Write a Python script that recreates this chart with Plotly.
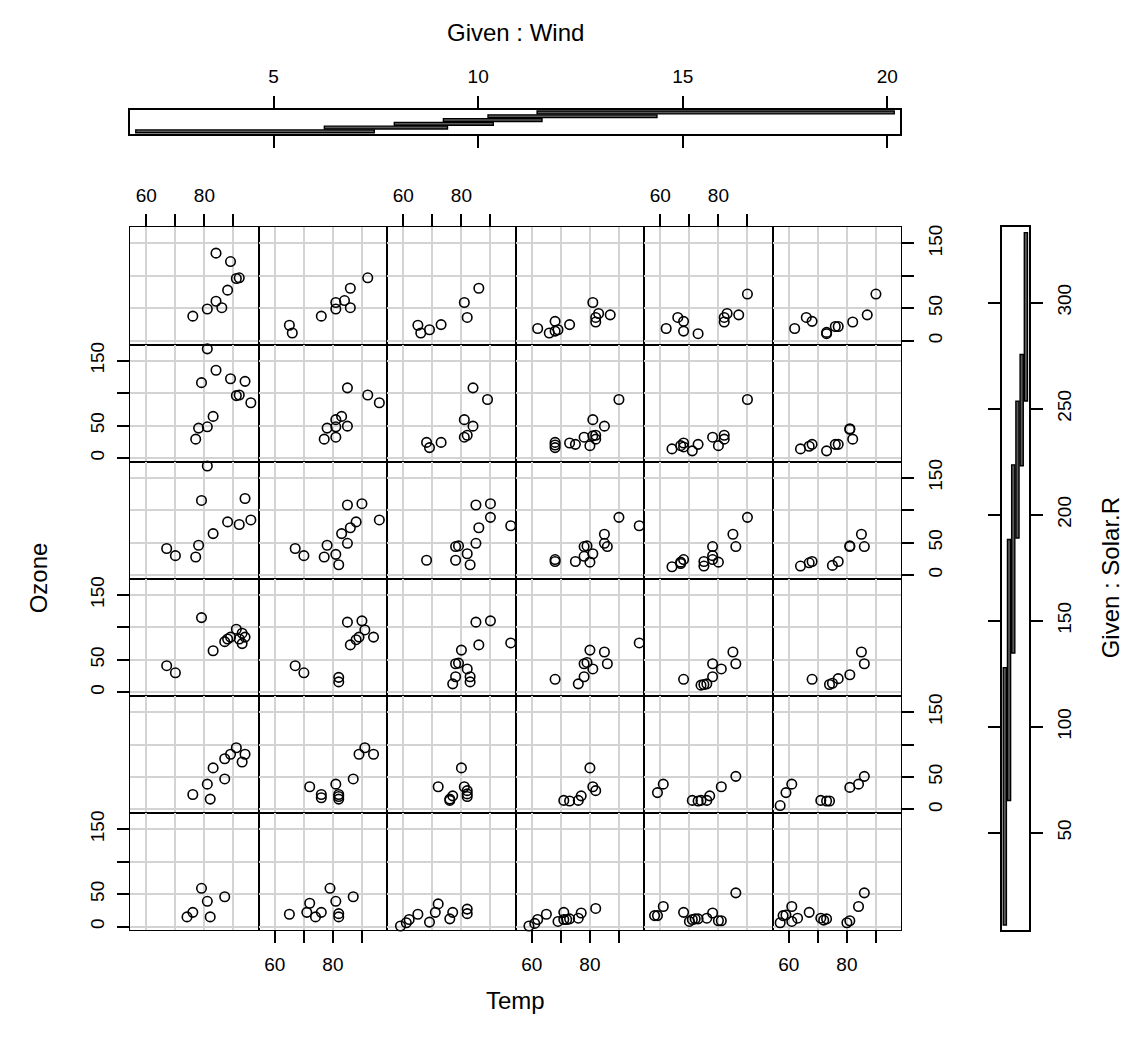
import plotly.graph_objects as go

W, H = 1136, 1042
FONT = "Liberation Sans, Arial, Helvetica, sans-serif"

# ---- conditioning intervals -------------------------------------------
# Wind intervals (top given panel), one per column, left to right
wind_lo = [1.63, 6.24, 7.95, 9.15, 10.24, 11.44]
wind_hi = [7.46, 9.25, 10.37, 11.56, 14.37, 20.17]
# Solar.R intervals (right given panel), one per row, bottom row first
solar_lo = [6.5, 65.2, 134.8, 189.0, 223.1, 253.6]
solar_hi = [127.9, 188.3, 223.5, 253.5, 275.5, 333.0]

wind_ticks = [5, 10, 15, 20]
solar_ticks = [50, 100, 150, 200, 250, 300]
temp_ticks = [60, 70, 80, 90]
temp_labels = ["60", "", "80", ""]
ozone_ticks = [0, 50, 100, 150]
ozone_labels = ["0", "50", "", "150"]

# ---- Ozone vs Temp, one list per column (Wind interval 1..6) ----------
# rows listed from the top (highest Solar.R) to the bottom (lowest)
temp_row1 = [[84, 89, 91, 92, 88, 84, 81, 86, 76],
             [65, 66, 76, 81, 81, 84, 86, 86, 92],
             [65, 66, 69, 73, 81, 82, 86],
             [62, 66, 68, 68, 69, 73, 81, 82, 83, 82, 87],
             [62, 66, 68, 68, 73, 82, 83, 82, 87, 90],
             [62, 66, 68, 73, 73, 76, 77, 82, 87, 90]]
ozone_row1 = [[135, 122, 96, 97, 78, 61, 49, 51, 38],
              [24, 12, 38, 59, 49, 62, 81, 51, 97],
              [24, 12, 17, 25, 59, 36, 81],
              [19, 12, 30, 15, 17, 25, 59, 36, 42, 29, 40],
              [19, 36, 30, 15, 11, 36, 42, 29, 40, 72],
              [19, 36, 30, 11, 13, 22, 22, 29, 40, 72]]

temp_row2 = [[81, 84, 79, 89, 94, 91, 92, 96, 83, 78, 81, 77],
             [85, 92, 96, 83, 81, 78, 81, 85, 77, 81],
             [84, 89, 81, 84, 81, 82, 68, 69, 73],
             [90, 81, 85, 82, 78, 81, 82, 80, 75, 73, 68, 68, 68],
             [90, 82, 78, 80, 82, 73, 71, 68, 68, 67, 64],
             [81, 81, 82, 76, 77, 73, 68, 67, 64]]
ozone_row2 = [[168, 135, 116, 122, 118, 96, 97, 85, 64, 46, 48, 29],
              [108, 97, 85, 64, 59, 46, 48, 49, 29, 32],
              [108, 90, 59, 49, 32, 35, 24, 16, 24],
              [90, 59, 49, 35, 32, 34, 29, 19, 21, 23, 24, 20, 16],
              [90, 35, 32, 19, 29, 21, 11, 23, 17, 19, 14],
              [45, 44, 29, 21, 21, 11, 21, 18, 14]]

temp_row3 = [[81, 79, 94, 96, 88, 92, 83, 78, 67, 70, 77],
             [85, 90, 96, 88, 86, 83, 85, 78, 81, 77, 82, 67, 70],
             [85, 90, 90, 86, 97, 85, 78, 79, 82, 78, 83, 68],
             [90, 97, 85, 85, 86, 78, 79, 81, 78, 80, 75, 68, 68],
             [90, 85, 86, 78, 78, 75, 75, 80, 78, 68, 67, 67, 64],
             [85, 81, 81, 86, 77, 75, 68, 67, 64]]
ozone_row3 = [[168, 115, 118, 85, 82, 78, 64, 46, 41, 30, 28],
              [108, 110, 85, 82, 73, 64, 49, 46, 32, 28, 16, 41, 30],
              [108, 110, 89, 73, 76, 49, 44, 45, 33, 23, 16, 23],
              [89, 76, 63, 49, 44, 44, 45, 33, 29, 20, 21, 24, 21],
              [89, 63, 44, 44, 30, 21, 14, 20, 24, 24, 20, 18, 13],
              [63, 44, 45, 44, 21, 15, 21, 19, 14]]

temp_row4 = [[79, 87, 88, 89, 91, 93, 94, 93, 92, 83, 67, 70],
             [85, 90, 91, 94, 89, 88, 86, 67, 70, 82, 82],
             [85, 90, 97, 86, 80, 78, 79, 82, 78, 83, 83, 77],
             [97, 80, 85, 86, 78, 79, 81, 78, 76, 68],
             [85, 86, 78, 81, 78, 68, 74, 75, 76],
             [85, 86, 81, 77, 75, 74, 68]]
ozone_row4 = [[115, 78, 82, 85, 97, 91, 85, 75, 82, 64, 41, 30],
              [108, 110, 96, 85, 85, 81, 73, 41, 30, 23, 16],
              [108, 110, 76, 73, 65, 44, 45, 36, 24, 24, 16, 13],
              [76, 65, 62, 44, 44, 46, 36, 24, 13, 20],
              [62, 44, 44, 36, 24, 20, 11, 12, 13],
              [62, 44, 27, 21, 14, 12, 20]]

temp_row5 = [[91, 94, 93, 89, 87, 83, 87, 81, 76, 82],
             [91, 89, 94, 87, 81, 72, 76, 76, 82, 82, 82],
             [80, 72, 81, 82, 82, 82, 77, 76, 76],
             [80, 81, 82, 77, 76, 71, 73],
             [86, 81, 77, 71, 73, 74, 76, 61, 59],
             [86, 84, 81, 71, 73, 74, 61, 59, 57]]
ozone_row5 = [[95, 85, 73, 85, 78, 64, 47, 39, 23, 16],
              [95, 85, 85, 47, 39, 35, 23, 18, 23, 20, 16],
              [64, 35, 35, 29, 24, 20, 21, 16, 14],
              [64, 35, 29, 21, 14, 14, 13],
              [51, 35, 21, 14, 13, 14, 14, 39, 26],
              [51, 39, 34, 14, 13, 13, 39, 26, 6]]

temp_row6 = [[79, 87, 81, 76, 74, 82],
             [79, 87, 81, 72, 65, 71, 76, 74, 82, 82],
             [72, 71, 65, 62, 61, 59, 69, 77, 76, 82, 82],
             [82, 77, 76, 73, 71, 71, 72, 69, 65, 62, 61, 59],
             [86, 61, 58, 59, 68, 78, 70, 71, 72, 73, 76, 80, 81],
             [86, 84, 61, 58, 59, 57, 61, 63, 67, 71, 72, 73, 80, 81]]
ozone_row6 = [[59, 46, 39, 22, 15, 15],
              [59, 46, 39, 36, 19, 22, 22, 15, 20, 15],
              [35, 22, 19, 11, 6, 1, 7, 22, 12, 27, 20],
              [28, 21, 13, 12, 22, 11, 11, 8, 19, 11, 5, 1],
              [52, 31, 17, 17, 22, 21, 8, 11, 12, 12, 13, 9, 9],
              [52, 31, 31, 17, 18, 6, 8, 13, 22, 13, 10, 12, 6, 9]]

temp_rows = [temp_row1, temp_row2, temp_row3, temp_row4, temp_row5, temp_row6]
ozone_rows = [ozone_row1, ozone_row2, ozone_row3, ozone_row4, ozone_row5, ozone_row6]

TEMP_RANGE = [54.36, 98.64]
OZONE_RANGE = [-5.68, 174.68]

# ---- pixel layout helpers ---------------------------------------------
def fx(px):
    return px / W


def fy(py):
    return 1 - py / H


col_edges = [130 + 128.5 * i for i in range(7)]
row_edges = [225 + 117.5 * i for i in range(7)]

LINE_W = 1.6      # ticks, grid, given-panel boxes
PANEL_W = 1.1     # panel frames (neighbouring frames add up)
TICK_LEN = 12
TICK_FONT = dict(family=FONT, size=19, color="black")


def r_range(lo, hi):
    # coplot shrinks the interval span by 3% and R pads it back by 4%
    a, b = min(lo), max(hi)
    d = b - a
    a2, b2 = a + 0.03 * d, b - 0.03 * d
    d2 = b2 - a2
    return [a2 - 0.04 * d2, b2 + 0.04 * d2]


fig = go.Figure()
layout = {}

n = 0
for r in range(6):
    for c in range(6):
        n += 1
        xa = "xaxis" if n == 1 else f"xaxis{n}"
        ya = "yaxis" if n == 1 else f"yaxis{n}"
        xr = "x" if n == 1 else f"x{n}"
        yr = "y" if n == 1 else f"y{n}"

        fig.add_trace(go.Scatter(
            x=temp_rows[r][c], y=ozone_rows[r][c],
            mode="markers", xaxis=xr, yaxis=yr,
            marker=dict(symbol="circle-open", size=9.5, color="black",
                        line=dict(width=LINE_W, color="black")),
            cliponaxis=False, showlegend=False, hoverinfo="x+y"))

        top_lab = (r == 0 and c % 2 == 0)
        bot_lab = (r == 5 and c % 2 == 1)
        x_lab = top_lab or bot_lab
        layout[xa] = dict(
            domain=[fx(col_edges[c]), fx(col_edges[c + 1])],
            range=TEMP_RANGE, anchor=yr,
            side="top" if top_lab else "bottom",
            tickmode="array", tickvals=temp_ticks, ticktext=temp_labels,
            showticklabels=x_lab, ticks="outside" if x_lab else "",
            ticklen=TICK_LEN, tickwidth=LINE_W, tickcolor="black",
            tickfont=TICK_FONT, ticklabelstandoff=5,
            showgrid=True, gridcolor="#d3d3d3", gridwidth=LINE_W,
            showline=True, linecolor="black", linewidth=PANEL_W, mirror=True,
            zeroline=False, fixedrange=True)

        left_lab = (c == 0 and r % 2 == 1)
        right_lab = (c == 5 and r % 2 == 0)
        y_lab = left_lab or right_lab
        layout[ya] = dict(
            domain=[fy(row_edges[r + 1]), fy(row_edges[r])],
            range=OZONE_RANGE, anchor=xr,
            side="right" if right_lab else "left",
            tickmode="array", tickvals=ozone_ticks, ticktext=ozone_labels,
            showticklabels=y_lab, ticks="outside" if y_lab else "",
            ticklen=TICK_LEN, tickwidth=LINE_W, tickcolor="black",
            tickfont=TICK_FONT, tickangle=-90, ticklabelstandoff=5,
            showgrid=True, gridcolor="#d3d3d3", gridwidth=LINE_W,
            showline=True, linecolor="black", linewidth=PANEL_W, mirror=True,
            zeroline=False, fixedrange=True)

BAR_STYLE = dict(color="#5a5a5a", line=dict(color="black", width=1.4))

# ---- given panel: Wind (top) ------------------------------------------
idx = list(range(1, 7))
fig.add_trace(go.Bar(
    y=idx, x=[h - l for l, h in zip(wind_lo, wind_hi)], base=wind_lo,
    orientation="h", width=0.75, xaxis="x37", yaxis="y37",
    marker=BAR_STYLE, showlegend=False, hoverinfo="skip"))
layout["xaxis37"] = dict(
    domain=[fx(130), fx(900)], range=r_range(wind_lo, wind_hi), anchor="y37",
    side="top", tickmode="array", tickvals=wind_ticks,
    ticks="outside", ticklen=TICK_LEN, tickwidth=LINE_W, tickcolor="black",
    tickfont=TICK_FONT, ticklabelstandoff=5,
    showgrid=False, zeroline=False, showline=True, linecolor="black",
    linewidth=LINE_W, mirror="ticks", fixedrange=True)
layout["yaxis37"] = dict(
    domain=[fy(131.5), fy(107)], range=[0.26, 6.74], anchor="x37",
    showticklabels=False, ticks="", showgrid=False, zeroline=False,
    showline=True, linecolor="black", linewidth=LINE_W, mirror=True,
    fixedrange=True)

# ---- given panel: Solar.R (right) -------------------------------------
fig.add_trace(go.Bar(
    x=idx, y=[h - l for l, h in zip(solar_lo, solar_hi)], base=solar_lo,
    orientation="v", width=0.75, xaxis="x38", yaxis="y38",
    marker=BAR_STYLE, showlegend=False, hoverinfo="skip"))
layout["xaxis38"] = dict(
    domain=[fx(1001.7), fx(1029)], range=[0.26, 6.74], anchor="y38",
    showticklabels=False, ticks="", showgrid=False, zeroline=False,
    showline=True, linecolor="black", linewidth=LINE_W, mirror=True,
    fixedrange=True)
layout["yaxis38"] = dict(
    domain=[fy(930), fy(225)], range=r_range(solar_lo, solar_hi),
    anchor="x38", side="right", tickmode="array", tickvals=solar_ticks,
    ticks="outside", ticklen=TICK_LEN, tickwidth=LINE_W, tickcolor="black",
    tickfont=TICK_FONT, tickangle=-90, ticklabelstandoff=5,
    showgrid=False, zeroline=False, showline=True, linecolor="black",
    linewidth=LINE_W, mirror="ticks", fixedrange=True)

TITLE_FONT = dict(family=FONT, size=24, color="black")
annotations = [
    dict(text="Given : Wind", x=fx(515), y=fy(30), textangle=0),
    dict(text="Temp", x=fx(515), y=fy(1000), textangle=0),
    dict(text="Ozone", x=fx(38), y=fy(577), textangle=-90),
    dict(text="Given : Solar.R", x=fx(1110), y=fy(577), textangle=-90),
]
for a in annotations:
    a.update(xref="paper", yref="paper", showarrow=False,
             xanchor="center", yanchor="middle", font=TITLE_FONT)

fig.update_layout(
    width=W, height=H, margin=dict(l=0, r=0, t=0, b=0),
    paper_bgcolor="white", plot_bgcolor="white",
    showlegend=False, barmode="overlay", annotations=annotations,
    **layout)

fig.write_html("out.html", include_plotlyjs=True, full_html=True,
               config={"displayModeBar": False})
